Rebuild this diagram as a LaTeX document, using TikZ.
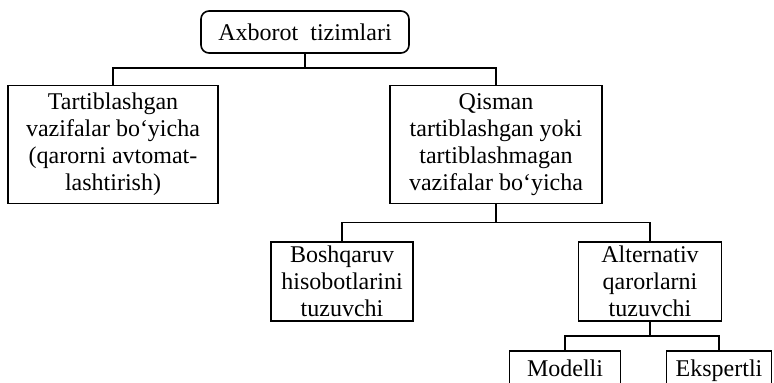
\documentclass[tikz,border=0pt]{standalone}
\usepackage{fontspec}
\setmainfont{Liberation Serif}
\usetikzlibrary{positioning}
\tikzset{%
  rootblock/.style={rectangle, draw, rounded corners=4pt, align=center, minimum width=104pt, minimum height=21pt},
  block/.style={rectangle, draw, align=center, inner sep=2pt},
  bigblock/.style={block, minimum width=105pt, minimum height=59pt},
  midblock/.style={block, minimum width=71pt, minimum height=39.5pt},
  smallblock/.style={block, minimum width=55pt, inner ysep=4.5pt, text height=8.5pt, text depth=20pt},
  line/.style={draw}}

\begin{document}
\begin{tikzpicture}[line width=0.8pt, font=\fontsize{12}{13.5}\selectfont]
    \useasboundingbox (0,0) rectangle (387pt,-191.5pt);
    \clip (0,0) rectangle (387pt,-191.5pt);
    % Top: all information systems
    \node (info) [rootblock] at (152.5pt,-16pt) {Axborot\ \ tizimlari};
    % Second level: ordered and partly ordered tasks
    \node (ordered) [bigblock, below=15.5pt of info, xshift=-96pt] {Tartiblashgan\\vazifalar bo‘yicha\\(qarorni avtomat-\\lashtirish)};
    \node (partial) [bigblock, below=15.5pt of info, xshift=95.5pt, minimum width=106pt] {Qisman\\tartiblashgan yoki\\tartiblashmagan\\vazifalar bo‘yicha};
    % Third level
    \node (reports) [midblock, below=18.5pt of partial, xshift=-77pt] {Boshqaruv\\hisobotlarini\\tuzuvchi};
    \node (alternatives) [midblock, below=18.5pt of partial, xshift=77pt, minimum width=71.5pt] {Alternativ\\qarorlarni\\tuzuvchi};
    % Bottom level (cut by the page edge)
    \node (model) [smallblock, below=14pt of alternatives, xshift=-42.5pt, minimum width=55.5pt] {Modelli};
    \node (expert) [smallblock, below=14pt of alternatives, xshift=34.5pt, minimum width=52.5pt] {Ekspertli};
    % Lines
    \draw[line] (info.south) -- ++(0,-7pt) -| (ordered.north);
    \draw[line] (info.south) -- ++(0,-7pt) -| (partial.north);
    \draw[line] (partial.south) -- ++(0,-9pt) -| (reports.north);
    \draw[line] (partial.south) -- ++(0,-9pt) -| (alternatives.north);
    \draw[line] (alternatives.south) -- ++(0,-7pt) -| (model.north);
    \draw[line] (alternatives.south) -- ++(0,-7pt) -| (expert.north);
  \end{tikzpicture}
\end{document}
